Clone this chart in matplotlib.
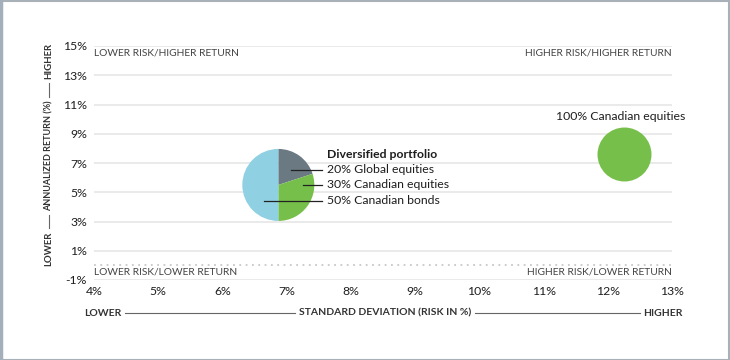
import matplotlib
matplotlib.use("Agg")
import matplotlib.pyplot as plt
from matplotlib.patches import Rectangle
from matplotlib.lines import Line2D

plt.rcParams['font.family'] = ['Lato', 'DejaVu Sans']

# ---- data ----
x_ticks = [4, 5, 6, 7, 8, 9, 10, 11, 12, 13]
y_ticks = [-1, 1, 3, 5, 7, 9, 11, 13, 15]
x_tick_labels = [f"{v}%" for v in x_ticks]
y_tick_labels = [f"{v}%" for v in y_ticks]

pie_risk = 6.87
pie_return = 5.5
pie_shares = [20, 30, 50]
pie_labels = ["20% Global equities", "30% Canadian equities", "50% Canadian bonds"]
pie_title = "Diversified portfolio"

equity_risk = 12.25
equity_return = 7.6
equity_label = "100% Canadian equities"

corner_labels = ["LOWER RISK/HIGHER RETURN", "HIGHER RISK/HIGHER RETURN",
                 "LOWER RISK/LOWER RETURN", "HIGHER RISK/LOWER RETURN"]

GREY = "#6b7983"
GREEN = "#76bf4a"
BLUE = "#8fd0e3"
TXT = "#1e1e1e"
pie_colors = [GREY, GREEN, BLUE]

W, H = 730, 360
fig = plt.figure(figsize=(W / 100, H / 100), dpi=100)
ax = fig.add_axes([94 / W, 1 - 280 / H, 578 / W, 234 / H])
ax.set_xlim(4, 13)
ax.set_ylim(-1, 15)

# gridlines
for y in y_ticks[1:]:
    ax.axhline(y, color="#e6e6e6", lw=1.2, zorder=0)
ax.axhline(0, color="#c8c8c8", lw=1.3, ls=(0, (1, 2.5)), zorder=0)
ax.axhline(-1, color="#e6e6e6", lw=1.2, zorder=0)

for s in ax.spines.values():
    s.set_visible(False)
ax.set_xticks(x_ticks, x_tick_labels)
ax.set_yticks(y_ticks, y_tick_labels)
ax.tick_params(length=0, labelsize=8.8, colors=TXT)
ax.tick_params(axis='y', pad=5)
ax.tick_params(axis='x', pad=4)

# corner labels
ckw = dict(fontsize=7.4, color="#444444")
ax.text(4, 14.5, corner_labels[0], ha="left", va="center", **ckw)
ax.text(13, 14.5, corner_labels[1], ha="right", va="center", **ckw)
ax.text(4, -0.45, corner_labels[2], ha="left", va="center", **ckw)
ax.text(13, -0.45, corner_labels[3], ha="right", va="center", **ckw)

# 100% equities bubble
ax.scatter([equity_risk], [equity_return], s=1510, color=GREEN, zorder=3, linewidths=0)
ax.annotate(equity_label, (equity_risk, equity_return), xytext=(-3, 38),
            textcoords="offset pixels", ha="center", va="center",
            fontsize=8.8, color=TXT)

# pie in inset axes
fig.canvas.draw()
cx, cy = ax.transData.transform((pie_risk, pie_return))
r = 36
pax = fig.add_axes([(cx - r) / W, (cy - r) / H, 2 * r / W, 2 * r / H])
pax.pie(pie_shares, colors=pie_colors, startangle=90, counterclock=False,
        wedgeprops=dict(linewidth=0), radius=1)
pax.set_xlim(-1, 1)
pax.set_ylim(-1, 1)
pax.set_aspect("equal")
pax.axis("off")

# labels and leader lines (pixel offsets from pie centre)
ax.annotate(pie_title, (pie_risk, pie_return), xytext=(49, 30),
            textcoords="offset pixels", ha="left", va="center",
            fontsize=8.8, fontweight="bold", color=TXT)
line_starts = [13, 25, -14]
line_y = [15, 0, -16]
for lab, xs, yy in zip(pie_labels, line_starts, line_y):
    ax.annotate(lab, (pie_risk, pie_return), xytext=(49, yy),
                textcoords="offset pixels", ha="left", va="center",
                fontsize=8.8, color=TXT, zorder=6)
    fig.add_artist(Line2D([(cx + xs) / W, (cx + 44) / W],
                          [(cy + yy) / H, (cy + yy) / H],
                          color="#222222", lw=0.9, zorder=10))

# axis titles with connecting lines measured from text extents
GAP = 4
bkw = dict(fontsize=7.5, fontweight="bold", color="#333333")
t1 = fig.text(84 / W, 1 - 313 / H, "LOWER", ha="left", va="center", **bkw)
t2 = fig.text(385 / W, 1 - 313 / H, "STANDARD DEVIATION (RISK IN %)", ha="center", va="center", **bkw)
t3 = fig.text(683 / W, 1 - 313 / H, "HIGHER", ha="right", va="center", **bkw)

vkw = dict(fontsize=6.9, fontweight="bold", color="#333333")
v1 = fig.text(49 / W, 1 - 249 / H, "LOWER", rotation=90, ha="center", va="center", **vkw)
v2 = fig.text(49 / W, 1 - 156 / H, "ANNUALIZED RETURN (%)", rotation=90, ha="center", va="center",
              fontsize=6.5, fontweight="bold", color="#333333")
v3 = fig.text(49 / W, 1 - 61 / H, "HIGHER", rotation=90, ha="center", va="center", **vkw)

fig.canvas.draw()
rend = fig.canvas.get_renderer()
b1, b2, b3 = [t.get_window_extent(rend) for t in (t1, t2, t3)]
yl = 1 - 313 / H
fig.add_artist(Line2D([(b1.x1 + GAP) / W, (b2.x0 - GAP) / W], [yl, yl], color="#666666", lw=0.8))
fig.add_artist(Line2D([(b2.x1 + GAP) / W, (b3.x0 - GAP) / W], [yl, yl], color="#666666", lw=0.8))

c1, c2, c3 = [t.get_window_extent(rend) for t in (v1, v2, v3)]
xl = 49 / W
fig.add_artist(Line2D([xl, xl], [(c1.y1 + GAP) / H, (c2.y0 - GAP) / H], color="#666666", lw=0.8))
fig.add_artist(Line2D([xl, xl], [(c2.y1 + GAP) / H, (c3.y0 - GAP) / H], color="#666666", lw=0.8))

# frame
fig.add_artist(Rectangle((0.5 / W, 0.5 / H), (W - 2) / W, (H - 1.5) / H,
                         transform=fig.transFigure, fill=False,
                         edgecolor="#a9b1b8", lw=1.5))
fig.add_artist(Line2D([1 / W, 1 / W], [0, 1], color="#a3b0bb", lw=2.5))

fig.savefig("out.png", dpi=100)
